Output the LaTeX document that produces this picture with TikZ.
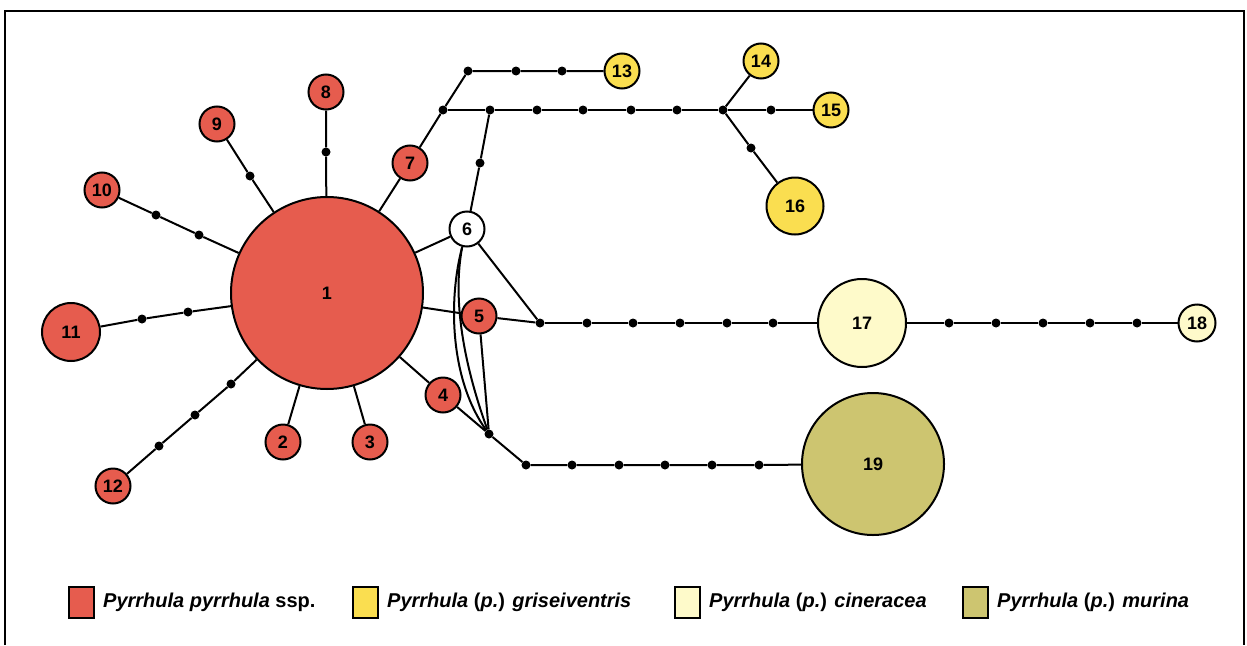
\documentclass[tikz,border=0pt]{standalone}
\usepackage{fontspec}
\setmainfont{Liberation Sans}
\usetikzlibrary{positioning}
\definecolor{hapred}{RGB}{230,92,78}
\definecolor{hapyellow}{RGB}{250,222,80}
\definecolor{hapcream}{RGB}{254,250,202}
\definecolor{hapolive}{RGB}{205,197,112}

\begin{document}
\begin{tikzpicture}[x=1pt,y=-1pt]

%
% Styles
%
\tikzstyle{hap}       = [circle,draw=black,line width=2pt,inner sep=0pt,font=\fontsize{18}{18}\selectfont\bfseries]
\tikzstyle{redhap}    = [hap,fill=hapred]
\tikzstyle{yellowhap} = [hap,fill=hapyellow]
\tikzstyle{creamhap}  = [hap,fill=hapcream]
\tikzstyle{olivehap}  = [hap,fill=hapolive]
\tikzstyle{whitehap}  = [hap,fill=white]
\tikzstyle{mv}        = [circle,fill=black,inner sep=0pt,minimum size=9pt]
\tikzstyle{edge}      = [line width=2pt]
\tikzstyle{swatch}    = [draw=black,line width=2pt,minimum width=25pt,minimum height=31pt,inner sep=0pt,anchor=west]
\tikzstyle{legtext}   = [inner sep=0pt,font=\fontsize{20}{20}\selectfont\bfseries]

\useasboundingbox (0,0) rectangle (1247,645);
\draw[line width=2pt] (5,645) -- (5,11) -- (1244,11) -- (1244,645);

% haplotypes
\node[redhap,minimum size=192pt] (h1) at (327,293) {1};
\node[redhap,minimum size=35pt] (h2)  at (283,442) {2};
\node[redhap,minimum size=35pt] (h3)  at (370,442) {3};
\node[redhap,minimum size=35pt] (h4)  at (443,395) {4};
\node[redhap,minimum size=35pt] (h5)  at (479,316) {5};
\node[whitehap,minimum size=35pt] (h6) at (467,229) {6};
\node[redhap,minimum size=35pt] (h7)  at (410,163) {7};
\node[redhap,minimum size=35pt] (h8)  at (326,92)  {8};
\node[redhap,minimum size=35pt] (h9)  at (217,124) {9};
\node[redhap,minimum size=35pt] (h10) at (102,190) {10};
\node[redhap,minimum size=58pt] (h11) at (71,332)  {11};
\node[redhap,minimum size=35pt] (h12) at (113,486) {12};
\node[yellowhap,minimum size=35pt] (h13) at (622,71)  {13};
\node[yellowhap,minimum size=35pt] (h14) at (761,61)  {14};
\node[yellowhap,minimum size=35pt] (h15) at (831,110) {15};
\node[yellowhap,minimum size=57pt] (h16) at (795,206) {16};
\node[creamhap,minimum size=88pt]  (h17) at (862,323) {17};
\node[creamhap,minimum size=37pt]  (h18) at (1197,323) {18};
\node[olivehap,minimum size=142pt] (h19) at (873,464) {19};

% mutation steps and median vectors
\node[mv] (m8)   at (326,152) {};
\node[mv] (m9)   at (250,176) {};
\node[mv] (m10a) at (156,215) {};
\node[mv] (m10b) at (199,235) {};
\node[mv] (m11a) at (142,319) {};
\node[mv] (m11b) at (188,312) {};
\node[mv] (m12a) at (159,446) {};
\node[mv] (m12b) at (195,415) {};
\node[mv] (m12c) at (231,384) {};
\node[mv] (ja)   at (443,110) {};
\node[mv] (t1)   at (468,71)  {};
\node[mv] (t2)   at (516,71)  {};
\node[mv] (t3)   at (562,71)  {};
\node[mv] (u1)   at (490,110) {};
\node[mv] (u2)   at (537,110) {};
\node[mv] (u3)   at (583,110) {};
\node[mv] (u4)   at (631,110) {};
\node[mv] (u5)   at (677,110) {};
\node[mv] (jb)   at (723,110) {};
\node[mv] (m15)  at (771,110) {};
\node[mv] (m16)  at (751,148) {};
\node[mv] (m6)   at (480,163) {};
\node[mv] (jc)   at (540,323) {};
\node[mv] (v1)   at (587,323) {};
\node[mv] (v2)   at (633,323) {};
\node[mv] (v3)   at (680,323) {};
\node[mv] (v4)   at (727,323) {};
\node[mv] (v5)   at (773,323) {};
\node[mv] (w1)   at (949,323) {};
\node[mv] (w2)   at (996,323) {};
\node[mv] (w3)   at (1043,323) {};
\node[mv] (w4)   at (1090,323) {};
\node[mv] (w5)   at (1137,323) {};
\node[mv] (jd)   at (489,434) {};
\node[mv] (x1)   at (526,465) {};
\node[mv] (x2)   at (572,465) {};
\node[mv] (x3)   at (619,465) {};
\node[mv] (x4)   at (665,465) {};
\node[mv] (x5)   at (712,465) {};
\node[mv] (x6)   at (759,465) {};

% links
\draw[edge] (h1) -- (h2);
\draw[edge] (h1) -- (h3);
\draw[edge] (h1) -- (h4);
\draw[edge] (h1) -- (h5);
\draw[edge] (h1) -- (h6);
\draw[edge] (h1) -- (h7);
\draw[edge] (h1) -- (m8) -- (h8);
\draw[edge] (h1) -- (m9) -- (h9);
\draw[edge] (h1) -- (m10b) -- (m10a) -- (h10);
\draw[edge] (h1) -- (m11b) -- (m11a) -- (h11);
\draw[edge] (h1) -- (m12c) -- (m12b) -- (m12a) -- (h12);
\draw[edge] (h7) -- (ja) -- (t1) -- (t2) -- (t3) -- (h13);
\draw[edge] (ja) -- (u1) -- (u2) -- (u3) -- (u4) -- (u5) -- (jb);
\draw[edge] (jb) -- (h14);
\draw[edge] (jb) -- (m15) -- (h15);
\draw[edge] (jb) -- (m16) -- (h16);
\draw[edge] (h6) -- (m6) -- (u1);
\draw[edge] (h6) -- (jc);
\draw[edge] (h5) -- (jc);
\draw[edge] (jc) -- (v1) -- (v2) -- (v3) -- (v4) -- (v5) -- (h17);
\draw[edge] (h17) -- (w1) -- (w2) -- (w3) -- (w4) -- (w5) -- (h18);
\draw[edge] (h5) -- (jd);
\draw[edge] (h4) -- (jd);
\draw[edge] (h6.255) .. controls (448,300) and (450,380) .. (jd);
\draw[edge] (h6.255) .. controls (452,300) and (464,365) .. (jd);
\draw[edge] (jd) -- (x1) -- (x2) -- (x3) -- (x4) -- (x5) -- (x6) -- (h19);

% legend
\node[swatch,fill=hapred]    (swred)    at (68,602)  {};
\node[legtext,right=8pt of swred]    (lgred)    {\textit{Pyrrhula pyrrhula} ssp.};
\node[swatch,fill=hapyellow] (swyellow) at (352,602) {};
\node[legtext,right=8pt of swyellow] (lgyellow) {\textit{Pyrrhula} (\textit{p.}) \textit{griseiventris}};
\node[swatch,fill=hapcream]  (swcream)  at (674,602) {};
\node[legtext,right=8pt of swcream]  (lgcream)  {\textit{Pyrrhula} (\textit{p.}) \textit{cineracea}};
\node[swatch,fill=hapolive]  (swolive)  at (962,602) {};
\node[legtext,right=8pt of swolive]  (lgolive)  {\textit{Pyrrhula} (\textit{p.}) \textit{murina}};

\end{tikzpicture}
\end{document}
